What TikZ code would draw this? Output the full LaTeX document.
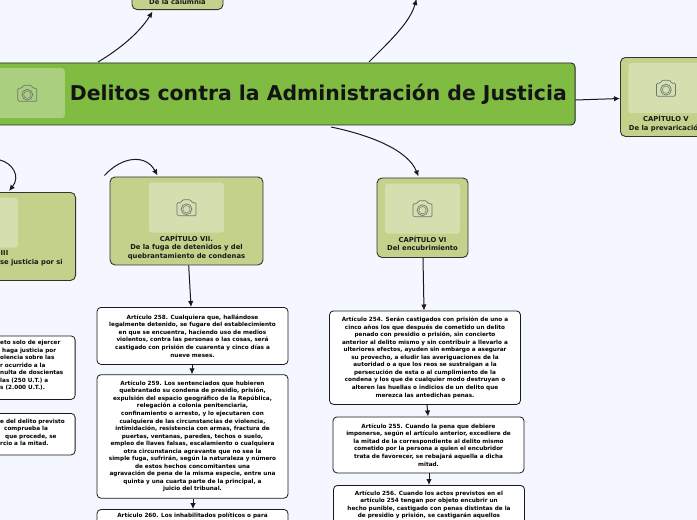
\documentclass[tikz,border=0pt]{standalone}
\usepackage{fontspec}
\setmainfont{DejaVu Sans}
\usetikzlibrary{arrows.meta,positioning}
\definecolor{bgblue}{HTML}{F4F7FF}
\definecolor{maingreen}{HTML}{80BC42}
\definecolor{mainpic}{HTML}{AAD07F}
\definecolor{capgreen}{HTML}{C3D28A}
\definecolor{cappic}{HTML}{D3DFAF}
\definecolor{iconline}{HTML}{6F7670}
\tikzset{
  rootbox/.style={draw=black!85, line width=0.9pt, rounded corners=4pt, fill=maingreen, minimum height=62pt, inner sep=0pt},
  capbox/.style={draw=black!80, line width=0.9pt, rounded corners=5pt, fill=capgreen, inner sep=0pt},
  picbox/.style={rounded corners=3pt, fill=cappic, minimum width=75pt, minimum height=50pt, inner sep=0pt},
  captext/.style={align=center, inner sep=0pt, font=\fontsize{6.8}{8.5}\selectfont\bfseries, text=black!90},
  artbox/.style={draw=black!90, line width=0.8pt, rounded corners=4pt, fill=white, minimum width=191pt, align=center, inner sep=0pt, font=\fontsize{5.7}{7.55}\selectfont\bfseries, text=black},
  cuttext/.style={align=left, inner sep=0pt, font=\fontsize{5.7}{7.55}\selectfont\bfseries, text=black},
  arrow/.style={-{Latex[length=6pt,width=5.5pt]}, line width=1pt, black!90},
  camera/.pic={
    \draw[iconline, line width=0.7pt, rounded corners=1.2pt]
      (-9.5,-5) -- (-5.5,-5) -- (-4,-8) -- (4,-8) -- (5.5,-5) -- (9.5,-5) -- (9.5,8) -- (-9.5,8) -- cycle;
    \draw[iconline, line width=0.7pt] (0,1.5) circle (5.4pt);
    \draw[iconline, line width=0.5pt] (0,1.5) circle (3.7pt);
  }
}
\begin{document}
\begin{tikzpicture}[x=1pt, y=-1pt]
  \useasboundingbox (0,0) rectangle (697,520);
  \clip (0,0) rectangle (697,520);
  \fill[bgblue] (0,0) rectangle (697,520);

  % root
  \node[rootbox, anchor=north east, minimum width=640pt] (root) at (575.5,62.5) {};
  \node[picbox, fill=mainpic, anchor=north east] (rootpic) at (65,68) {};
  \pic at (rootpic.center) {camera};
  \node[inner sep=0pt, anchor=east, font=\fontsize{20.4}{24}\selectfont\bfseries, text=black!92] (roottext) at (567,94) {Delitos contra la Administración de Justicia};

  % chapters
  \node[capbox, anchor=south, minimum width=91pt, minimum height=79pt] (capcal) at (177.5,10) {};
  \node[captext, anchor=base] (capcaltext) at (177.5,4) {De la calumnia};

  \node[capbox, anchor=north west, minimum width=91pt, minimum height=79pt] (capv) at (620,57) {};
  \node[picbox, below=6pt of capv.north] (capvpic) {};
  \pic at (capvpic.center) {camera};
  \node[captext, below=2pt of capvpic] (capvtext) {CAPÍTULO V\\De la prevaricación};

  \node[capbox, anchor=north, minimum width=91pt, minimum height=79.5pt] (capvi) at (422.5,177.5) {};
  \node[picbox, below=6pt of capvi.north] (capvipic) {};
  \pic at (capvipic.center) {camera};
  \node[captext, below=2pt of capvipic] (capvitext) {CAPÍTULO VI\\Del encubrimiento};

  \node[capbox, anchor=north, minimum width=153pt, minimum height=88pt] (capvii) at (186.5,176.5) {};
  \node[picbox, below=6pt of capvii.north] (capviipic) {};
  \pic at (capviipic.center) {camera};
  \node[captext, below=2pt of capviipic] (capviitext) {CAPÍTULO VII.\\De la fuga de detenidos y del\\quebrantamiento de condenas};

  \node[capbox, anchor=north east, minimum width=200pt, minimum height=88pt] (capviii) at (76,192) {};
  \node[picbox, anchor=north east] (capviiipic) at (18,197.5) {};
  \node[captext, anchor=west] (capviiilabel) at (0.5,253) {III};
  \node[captext, anchor=east] (capviiitext) at (63,262.5) {se justicia por si};

  % articles chapter VII
  \node[artbox, anchor=north, minimum height=57pt] (art258) at (192.5,307) {Artículo 258. Cualquiera que, hallándose\\legalmente detenido, se fugare del establecimiento\\en que se encuentra, haciendo uso de medios\\violentos, contra las personas o las cosas, será\\castigado con prisión de cuarenta y cinco días a\\nueve meses.};
  \node[artbox, below=9.5pt of art258, minimum height=123.5pt] (art259) {Artículo 259. Los sentenciados que hubieren\\quebrantado su condena de presidio, prisión,\\expulsión del espacio geográfico de la República,\\relegación a colonia penitenciaria,\\confinamiento o arresto, y lo ejecutaren con\\cualquiera de las circunstancias de violencia,\\intimidación, resistencia con armas, fractura de\\puertas, ventanas, paredes, techos o suelo,\\empleo de llaves falsas, escalamiento o cualquiera\\otra circunstancia agravante que no sea la\\simple fuga, sufrirán, según la naturaleza y número\\de estos hechos concomitantes una\\agravación de pena de la misma especie, entre una\\quinta y una cuarta parte de la principal, a\\juicio del tribunal.};
  \node[artbox, below=10.5pt of art259, minimum height=40pt, text depth=28pt, anchor=north] (art260) {Artículo 260. Los inhabilitados políticos o para};

  % articles chapter VI
  \node[artbox, anchor=north, minimum height=93.5pt] (art254) at (425,310.5) {Artículo 254. Serán castigados con prisión de uno a\\cinco años los que después de cometido un delito\\penado con presidio o prisión, sin concierto\\anterior al delito mismo y sin contribuir a llevarlo a\\ulteriores efectos, ayuden sin embargo a asegurar\\su provecho, a eludir las averiguaciones de la\\autoridad o a que los reos se sustraigan a la\\persecución de esta o al cumplimiento de la\\condena y los que de cualquier modo destruyan o\\alteren las huellas o indicios de un delito que\\merezca las antedichas penas.};
  \node[artbox, anchor=north, minimum height=56pt] (art255) at (428.5,416.5) {Artículo 255. Cuando la pena que debiere\\imponerse, según el artículo anterior, excediere de\\la mitad de la correspondiente al delito mismo\\cometido por la persona a quien el encubridor\\trata de favorecer, se rebajará aquella a dicha\\mitad.};
  \node[artbox, anchor=north, minimum height=60pt] (art256) at (429,485) {};
  \node[cuttext, align=center, anchor=north] (art256text) at (429,490.5) {Artículo 256. Cuando los actos previstos en el\\artículo 254 tengan por objeto encubrir un\\hecho punible, castigado con penas distintas de la\\de presidio y prisión, se castigarán aquellos};

  % articles chapter VIII
  \node[artbox, anchor=north east, minimum height=63.5pt] (art1) at (75.5,335.5) {};
  \node[cuttext, anchor=north west] (art1text) at (0,340) {eto solo de ejercer\\\hspace*{2pt}haga justicia por\\olencia sobre las\\r ocurrido a la\\nulta de doscientas\\las (250 U.T.) a\\s (2.000 U.T.).};
  \node[artbox, anchor=north east, minimum height=41.5pt] (art2) at (75.5,413) {};
  \node[cuttext, anchor=north west] (art2text) at (0,418.5) {e del delito previsto\\\hspace*{4pt}comprueba la\\\hspace*{5pt}que procede, se\\rcio a la mitad.};

  % connectors
  \coordinate (rootup) at (98,62);
  \coordinate (capcalin) at (152.5,11.5);
  \coordinate (rootupb) at (369,62);
  \coordinate (offtop) at (416.5,-1);
  \coordinate (rootdown) at (331,127);
  \coordinate (capviin) at (418.5,176.5);
  \coordinate (viiarc) at (104.5,175.5);
  \coordinate (capviiin) at (157.5,175.5);
  \coordinate (viiiarc) at (0,160);
  \coordinate (capviiiin) at (9,191);
  \draw[arrow] (rootup) .. controls (120,49) and (140,32) .. (capcalin);
  \draw[arrow] (rootupb) .. controls (392,39) and (410,22) .. (offtop);
  \draw[arrow] (rootdown) .. controls (370,135) and (408,150) .. (capviin);
  \draw[arrow] (viiarc) .. controls (122,156) and (146,154) .. (capviiin);
  \draw[arrow] (viiiarc) .. controls (12,163) and (21,176) .. (capviiiin);
  \draw[arrow] (root.east |- 0,100) -- (capv.west |- 0,98.5);
  \draw[arrow] (188.7,265.5) -- (art258.north -| 191,0);
  \draw[arrow] (capvi.south -| 423,0) -- (art254.north -| 424,0);
  \foreach \a/\b/\xa/\xb in {art258/art259/192/192,art259/art260/193/193,art254/art255/427/428,art255/art256/429/429}
    \draw[arrow] (\a.south -| \xa,0) -- (\b.north -| \xb,0);
\end{tikzpicture}
\end{document}
